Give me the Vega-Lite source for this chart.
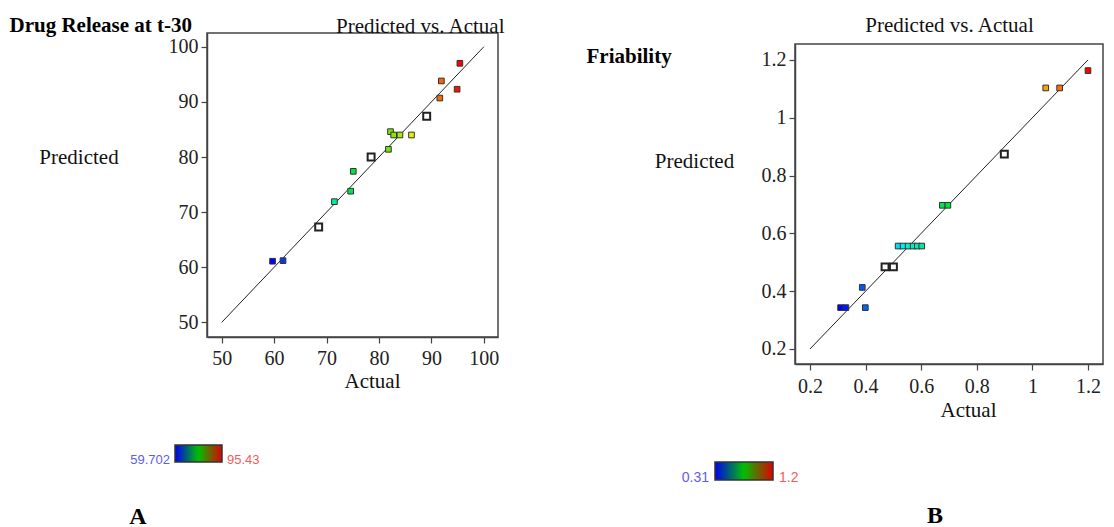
{
  "$schema": "https://vega.github.io/schema/vega-lite/v6.json",
  "background": "white",
  "padding": {"left": 8, "top": 13, "right": 0, "bottom": 0},
  "spacing": 80,
  "datasets": {
    "drug": [
      {"actual": 59.702, "predicted": 61.1, "run": "factorial"},
      {"actual": 61.7, "predicted": 61.2, "run": "factorial"},
      {"actual": 68.5, "predicted": 67.3, "run": "center"},
      {"actual": 71.5, "predicted": 71.9, "run": "factorial"},
      {"actual": 74.6, "predicted": 73.8, "run": "factorial"},
      {"actual": 75.1, "predicted": 77.4, "run": "factorial"},
      {"actual": 78.5, "predicted": 80.0, "run": "center"},
      {"actual": 81.8, "predicted": 81.4, "run": "factorial"},
      {"actual": 82.2, "predicted": 84.6, "run": "factorial"},
      {"actual": 82.8, "predicted": 84.0, "run": "factorial"},
      {"actual": 84.0, "predicted": 84.0, "run": "factorial"},
      {"actual": 86.2, "predicted": 84.0, "run": "factorial"},
      {"actual": 89.1, "predicted": 87.4, "run": "center"},
      {"actual": 91.6, "predicted": 90.7, "run": "factorial"},
      {"actual": 91.9, "predicted": 93.8, "run": "factorial"},
      {"actual": 94.9, "predicted": 92.3, "run": "factorial"},
      {"actual": 95.43, "predicted": 97.0, "run": "factorial"}
    ],
    "drugLine": [
      {"actual": 50, "predicted": 50},
      {"actual": 100, "predicted": 100}
    ],
    "friab": [
      {"actual": 0.31, "predicted": 0.343, "run": "factorial"},
      {"actual": 0.329, "predicted": 0.343, "run": "factorial"},
      {"actual": 0.388, "predicted": 0.413, "run": "factorial"},
      {"actual": 0.399, "predicted": 0.343, "run": "factorial"},
      {"actual": 0.47, "predicted": 0.484, "run": "center"},
      {"actual": 0.5, "predicted": 0.484, "run": "center"},
      {"actual": 0.517, "predicted": 0.556, "run": "factorial"},
      {"actual": 0.535, "predicted": 0.556, "run": "factorial"},
      {"actual": 0.553, "predicted": 0.556, "run": "factorial"},
      {"actual": 0.571, "predicted": 0.556, "run": "factorial"},
      {"actual": 0.586, "predicted": 0.556, "run": "factorial"},
      {"actual": 0.602, "predicted": 0.556, "run": "factorial"},
      {"actual": 0.676, "predicted": 0.697, "run": "factorial"},
      {"actual": 0.696, "predicted": 0.697, "run": "factorial"},
      {"actual": 0.899, "predicted": 0.874, "run": "center"},
      {"actual": 1.048, "predicted": 1.103, "run": "factorial"},
      {"actual": 1.098, "predicted": 1.103, "run": "factorial"},
      {"actual": 1.2, "predicted": 1.163, "run": "factorial"}
    ],
    "friabLine": [
      {"actual": 0.2, "predicted": 0.2},
      {"actual": 1.2, "predicted": 1.2}
    ]
  },
  "resolve": {"scale": {"color": "independent"}, "legend": {"color": "independent"}},
  "hconcat": [
    {
      "width": 291,
      "height": 304,
      "title": {"text": "A", "orient": "bottom", "anchor": "start", "frame": "group", "align": "center", "dx": -69, "offset": 57, "baseline": "alphabetic", "font": "Liberation Serif", "fontSize": 24, "fontWeight": "bold", "color": "#000"},
      "resolve": {"scale": {"color": "independent"}, "axis": {"x": "independent", "y": "independent"}},
      "layer": [
        {
          "data": {"name": "drugLine"},
          "mark": {"type": "line", "color": "#222", "strokeWidth": 1},
          "encoding": {
            "x": {"field": "actual", "type": "quantitative", "scale": {"domain": [47.2, 102.7], "nice": false, "zero": false},
                  "axis": {"orient": "bottom", "values": [50, 60, 70, 80, 90, 100], "labelPadding": 5, "title": "Actual", "titleX": 165, "titleY": 44, "titleAlign": "center", "titleBaseline": "middle"}},
            "y": {"field": "predicted", "type": "quantitative", "scale": {"domain": [47.35, 102.5], "nice": false, "zero": false},
                  "axis": {"orient": "left", "values": [50, 60, 70, 80, 90, 100], "title": "Predicted", "titleAngle": 0, "titleX": -128.5, "titleY": 124, "titleAlign": "center", "titleBaseline": "middle"}}
          }
        },
        {
          "data": {"name": "drug"},
          "transform": [{"filter": "datum.run === 'center'"}],
          "mark": {"type": "square", "size": 48, "fill": "white", "stroke": "#222", "strokeWidth": 2, "opacity": 1},
          "encoding": {
            "x": {"field": "actual", "type": "quantitative", "scale": {"domain": [47.2, 102.7], "nice": false, "zero": false},
                  "axis": {"orient": "top", "domain": false, "ticks": false, "labels": false, "title": "Predicted vs. Actual", "titleX": 297, "titleY": -0.5, "titleAlign": "right", "titleBaseline": "alphabetic"}},
            "y": {"field": "predicted", "type": "quantitative", "scale": {"domain": [47.35, 102.5], "nice": false, "zero": false},
                  "axis": {"orient": "right", "domain": false, "ticks": false, "labels": false, "title": "Drug Release at t-30", "titleAngle": 0, "titleX": -489, "titleY": -2, "titleAlign": "left", "titleBaseline": "alphabetic", "titleFontWeight": "bold", "titleColor": "#000"}}
          }
        },
        {
          "data": {"name": "drug"},
          "transform": [{"filter": "datum.run !== 'center'"}],
          "mark": {"type": "square", "size": 32, "stroke": "#333", "strokeWidth": 1, "opacity": 1},
          "encoding": {
            "x": {"field": "actual", "type": "quantitative", "scale": {"domain": [47.2, 102.7], "nice": false, "zero": false}, "axis": null},
            "y": {"field": "predicted", "type": "quantitative", "scale": {"domain": [47.35, 102.5], "nice": false, "zero": false}, "axis": null},
            "color": {"field": "actual", "type": "quantitative", "scale": {"domain": [59.702, 77.566, 95.43], "range": ["#0000ff", "#00e000", "#ff0000"], "interpolate": "hsl"}, "legend": null}
          }
        },
        {
          "data": {"name": "drug"},
          "mark": {"type": "square", "opacity": 0},
          "encoding": {
            "x": {"field": "actual", "type": "quantitative", "scale": {"domain": [47.2, 102.7], "nice": false, "zero": false}, "axis": null},
            "y": {"field": "predicted", "type": "quantitative", "scale": {"domain": [47.35, 102.5], "nice": false, "zero": false}, "axis": null},
            "color": {"field": "actual", "type": "quantitative",
              "scale": {"domain": [59.702, 77.566, 95.43], "range": ["#0000f0", "#00c000", "#e00000"], "interpolate": "rgb"},
              "legend": {"orient": "none", "legendX": -32, "legendY": 412, "direction": "horizontal", "title": null,
                "gradientLength": 47, "gradientThickness": 17, "gradientStrokeColor": "#333", "gradientStrokeWidth": 1.5,
                "values": [59.702, 95.43], "format": ".5~g", "labelOverlap": false,
                "labelFont": "Liberation Sans", "labelFontSize": 13, "labelOffset": -8.5, "labelBaseline": "middle",
                "encode": {"labels": {"update": {
                  "align": {"signal": "datum.perc > 0.5 ? 'left' : 'right'"},
                  "dx": {"signal": "datum.perc > 0.5 ? 5 : -5"},
                  "fill": {"signal": "datum.perc > 0.5 ? '#f55c5c' : '#5c5cf5'"}
                }}}}
            }
          }
        }
      ]
    },
    {
      "bounds": "flush",
      "spacing": 0,
      "vconcat": [
        {
          "width": 20,
          "height": 11,
          "data": {"values": []},
          "mark": "point",
          "view": {"stroke": null}
        },
        {
          "width": 308,
          "height": 320,
          "title": {"text": "B", "orient": "bottom", "anchor": "start", "frame": "group", "align": "center", "dx": 140, "offset": 38, "baseline": "alphabetic", "font": "Liberation Serif", "fontSize": 24, "fontWeight": "bold", "color": "#000"},
          "resolve": {"scale": {"color": "independent"}, "axis": {"x": "independent", "y": "independent"}},
          "layer": [
            {
              "data": {"name": "friabLine"},
              "mark": {"type": "line", "color": "#222", "strokeWidth": 1},
              "encoding": {
                "x": {"field": "actual", "type": "quantitative", "scale": {"domain": [0.146, 1.254], "nice": false, "zero": false},
                      "axis": {"orient": "bottom", "values": [0.2, 0.4, 0.6, 0.8, 1, 1.2], "format": "~g", "labelPadding": 6, "title": "Actual", "titleX": 173, "titleY": 46, "titleAlign": "center", "titleBaseline": "middle"}},
                "y": {"field": "predicted", "type": "quantitative", "scale": {"domain": [0.148, 1.255], "nice": false, "zero": false},
                      "axis": {"orient": "left", "values": [0.2, 0.4, 0.6, 0.8, 1, 1.2], "format": "~g", "title": "Predicted", "titleAngle": 0, "titleX": -101, "titleY": 117, "titleAlign": "center", "titleBaseline": "middle"}}
              }
            },
            {
              "data": {"name": "friab"},
              "transform": [{"filter": "datum.run === 'center'"}],
              "mark": {"type": "square", "size": 48, "fill": "white", "stroke": "#222", "strokeWidth": 2, "opacity": 1},
              "encoding": {
                "x": {"field": "actual", "type": "quantitative", "scale": {"domain": [0.146, 1.254], "nice": false, "zero": false},
                      "axis": {"orient": "top", "domain": false, "ticks": false, "labels": false, "title": "Predicted vs. Actual", "titleX": 154, "titleY": -13, "titleAlign": "center", "titleBaseline": "alphabetic"}},
                "y": {"field": "predicted", "type": "quantitative", "scale": {"domain": [0.148, 1.255], "nice": false, "zero": false},
                      "axis": {"orient": "right", "domain": false, "ticks": false, "labels": false, "title": "Friability", "titleAngle": 0, "titleX": -517, "titleY": 18, "titleAlign": "left", "titleBaseline": "alphabetic", "titleFontWeight": "bold", "titleColor": "#000"}}
              }
            },
            {
              "data": {"name": "friab"},
              "transform": [{"filter": "datum.run !== 'center'"}],
              "mark": {"type": "square", "size": 32, "stroke": "#333", "strokeWidth": 1, "opacity": 1},
              "encoding": {
                "x": {"field": "actual", "type": "quantitative", "scale": {"domain": [0.146, 1.254], "nice": false, "zero": false}, "axis": null},
                "y": {"field": "predicted", "type": "quantitative", "scale": {"domain": [0.148, 1.255], "nice": false, "zero": false}, "axis": null},
                "color": {"field": "actual", "type": "quantitative", "scale": {"domain": [0.31, 0.755, 1.2], "range": ["#0000ff", "#00e000", "#ff0000"], "interpolate": "hsl"}, "legend": null}
              }
            },
            {
              "data": {"name": "friab"},
              "mark": {"type": "square", "opacity": 0},
              "encoding": {
                "x": {"field": "actual", "type": "quantitative", "scale": {"domain": [0.146, 1.254], "nice": false, "zero": false}, "axis": null},
                "y": {"field": "predicted", "type": "quantitative", "scale": {"domain": [0.148, 1.255], "nice": false, "zero": false}, "axis": null},
                "color": {"field": "actual", "type": "quantitative",
                  "scale": {"domain": [0.31, 0.755, 1.2], "range": ["#0000f0", "#00c000", "#e00000"], "interpolate": "rgb"},
                  "legend": {"orient": "none", "legendX": -80, "legendY": 418, "direction": "horizontal", "title": null,
                    "gradientLength": 58, "gradientThickness": 18, "gradientStrokeColor": "#333", "gradientStrokeWidth": 1.5,
                    "values": [0.31, 1.2], "format": ".5~g", "labelOverlap": false,
                    "labelFont": "Liberation Sans", "labelFontSize": 14, "labelOffset": -9, "labelBaseline": "middle",
                    "encode": {"labels": {"update": {
                      "align": {"signal": "datum.perc > 0.5 ? 'left' : 'right'"},
                      "dx": {"signal": "datum.perc > 0.5 ? 6 : -6"},
                      "fill": {"signal": "datum.perc > 0.5 ? '#f55c5c' : '#5c5cf5'"}
                    }}}}
                }
              }
            }
          ]
        }
      ]
    }
  ],
  "config": {
    "view": {"stroke": "#444", "strokeWidth": 1.5},
    "axis": {
      "grid": false,
      "domainColor": "#444", "domainWidth": 1.5,
      "tickColor": "#444", "tickWidth": 1.2, "tickSize": 6,
      "labelFont": "Liberation Serif", "labelFontSize": 20, "labelColor": "#222", "labelPadding": 3,
      "titleFont": "Liberation Serif", "titleFontSize": 21, "titleFontWeight": "normal", "titleColor": "#111"
    }
  }
}
